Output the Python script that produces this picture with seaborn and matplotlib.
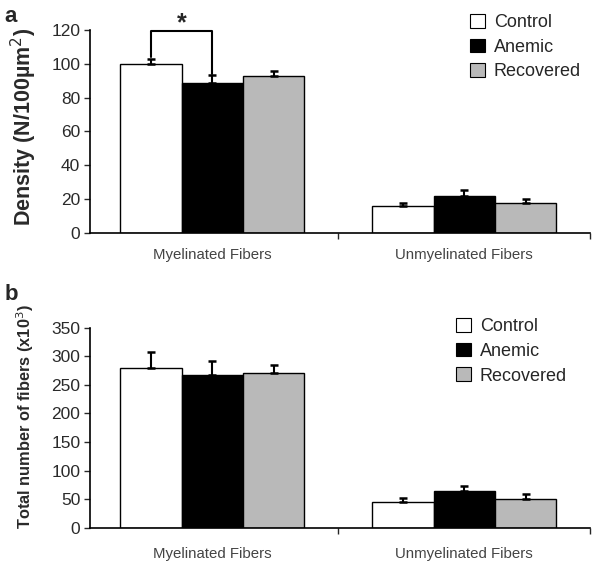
import numpy as np
import pandas as pd
import seaborn as sns
import matplotlib.pyplot as plt

sns.set_style("white")
plt.rcParams['font.family'] = ['Liberation Sans', 'DejaVu Sans']

categories = ["Myelinated Fibers", "Unmyelinated Fibers"]
groups = ["Control", "Anemic", "Recovered"]
colors = ["white", "black", "#b9b9b9"]

# panel a: density (N/100um2)
density_control = [100.0, 15.7]
density_anemic = [88.5, 22.0]
density_recovered = [92.5, 17.6]
density_sem_control = [3.0, 2.0]
density_sem_anemic = [5.0, 3.5]
density_sem_recovered = [3.0, 2.4]

# panel b: total number of fibers (x10^3)
total_control = [279, 45]
total_anemic = [267, 65]
total_recovered = [271, 51]
total_sem_control = [28, 7]
total_sem_anemic = [24, 9]
total_sem_recovered = [13, 9]


def make_df(vals, sems):
    rows = []
    for g, v, s in zip(groups, vals, sems):
        for c, vv, ss in zip(categories, v, s):
            rows.append({"category": c, "group": g, "value": vv, "sem": ss})
    return pd.DataFrame(rows)


def draw(ax, df, ylim, yticks, ylabel, ylabel_size, legend_anchor, xpad):
    sns.barplot(data=df, x="category", y="value", hue="group", order=categories,
                hue_order=groups, palette=colors, width=0.73, edgecolor="black",
                linewidth=1, saturation=1, errorbar=None, ax=ax)
    # upward-only error bars, matched to bar patches
    for g, cont in zip(groups, ax.containers):
        sub = df[df["group"] == g].set_index("category").loc[categories]
        xs = [p.get_x() + p.get_width() / 2 for p in cont.patches]
        ax.errorbar(xs, sub["value"], yerr=[np.zeros(len(xs)), sub["sem"]],
                    fmt="none", ecolor="black", elinewidth=1.5, capsize=3.2,
                    capthick=1.8, zorder=1)
    ax.set_xlim(-0.485, 1.5)
    ax.set_ylim(*ylim)
    ax.set_yticks(yticks)
    ax.tick_params(axis="y", labelsize=12.5, colors="#2a2a2a", length=4, width=1,
                   direction="out", left=True, pad=3)
    ax.set_xticks([0, 1])
    ax.set_xticklabels(categories, fontsize=10.8, color="#444444")
    ax.tick_params(axis="x", length=0, pad=xpad)
    ax.set_xticks([0.5, 1.5], minor=True)
    ax.tick_params(axis="x", which="minor", length=4, width=1, direction="out", bottom=True)
    ax.set_xlabel("")
    ax.set_ylabel(ylabel, fontsize=ylabel_size, fontweight="bold", color="#2a2a2a")
    for s in ["top", "right"]:
        ax.spines[s].set_visible(False)
    for s in ["left", "bottom"]:
        ax.spines[s].set_color("black")
        ax.spines[s].set_linewidth(1.2)
    ax.legend(loc="upper left", bbox_to_anchor=legend_anchor, frameon=False,
              fontsize=13, handlelength=0.8, handleheight=0.8, handletextpad=0.5,
              labelspacing=0.42, borderaxespad=0)
    for h in ax.get_legend().legend_handles:
        h.set_edgecolor("black")
        h.set_linewidth(0.8)


fig = plt.figure(figsize=(5.92, 5.64), dpi=100)
ax1 = fig.add_axes([0.152, 0.587, 0.845, 0.360])
ax2 = fig.add_axes([0.152, 0.064, 0.845, 0.355])

df_a = make_df([density_control, density_anemic, density_recovered],
               [density_sem_control, density_sem_anemic, density_sem_recovered])
df_b = make_df([total_control, total_anemic, total_recovered],
               [total_sem_control, total_sem_anemic, total_sem_recovered])

draw(ax1, df_a, (0, 120), range(0, 121, 20), "Density (N/100\u00b5m$^2$)", 15.5,
     (0.746, 1.115), 11)
draw(ax2, df_b, (0, 350), range(0, 351, 50), "Total number of fibers (x10$^3$)", 11.8,
     (0.718, 1.085), 14)

ax1.yaxis.set_label_coords(-0.102, 0.52)
ax2.yaxis.set_label_coords(-0.108, 0.555)

# significance bracket between control and anemic myelinated bars
pc = ax1.containers[0].patches[0]
pa = ax1.containers[1].patches[0]
xc = pc.get_x() + pc.get_width() / 2
xa = pa.get_x() + pa.get_width() / 2
ax1.plot([xc, xc, xa, xa], [104, 119.5, 119.5, 94], color="black", lw=1.5,
         clip_on=False, zorder=3)
ax1.text((xc + xa) / 2, 119.5, "*", ha="center", va="baseline", fontsize=18,
         fontweight="bold", clip_on=False)

fig.text(0.008, 0.99, "a", fontsize=16, fontweight="bold", va="top")
fig.text(0.008, 0.497, "b", fontsize=16, fontweight="bold", va="top")

fig.savefig("out.png", dpi=100)
